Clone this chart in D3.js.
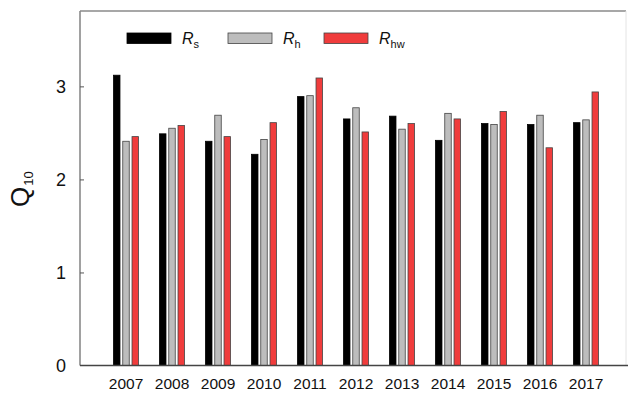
<!DOCTYPE html>
<html>
<head>
<meta charset="utf-8">
<script src="https://cdn.jsdelivr.net/npm/d3@7"></script>
<style>
  html, body { margin: 0; padding: 0; background: #fff; }
  svg { display: block; font-family: Arial, "Liberation Sans", sans-serif; }
</style>
</head>
<body>
<svg id="chart" width="630" height="394"></svg>
<script>
// Annual Q10 of the three respiration components
const years = ["2007","2008","2009","2010","2011","2012","2013","2014","2015","2016","2017"];
const seriesKeys = ["Rs", "Rh", "Rhw"];
const seriesSub = ["s", "h", "hw"];
const rsValues  = [3.12, 2.49, 2.41, 2.27, 2.89, 2.65, 2.68, 2.42, 2.60, 2.59, 2.61];
const rhValues  = [2.41, 2.55, 2.69, 2.43, 2.90, 2.77, 2.54, 2.71, 2.59, 2.69, 2.64];
const rhwValues = [2.46, 2.58, 2.46, 2.61, 3.09, 2.51, 2.60, 2.65, 2.73, 2.34, 2.94];
const yTicks = [0, 1, 2, 3];

const colors = { Rs: "#000000", Rh: "#bdbdbd", Rhw: "#f03c3c" };
const values = { Rs: rsValues, Rh: rhValues, Rhw: rhwValues };

const svg = d3.select("#chart");
const margin = { left: 80, top: 11, right: 626, bottom: 365.5 };

const y = d3.scaleLinear().domain([0, 3.81]).range([margin.bottom, margin.top]);
const x = d3.scaleBand().domain(years).range([103, 609]).paddingInner(0).paddingOuter(0);
const xs = d3.scaleBand().domain(seriesKeys).range([-12.5, 12.5]).paddingInner(0.3).paddingOuter(0);

// bars
const groups = svg.append("g").selectAll("g").data(years).join("g")
  .attr("transform", d => `translate(${x(d) + x.bandwidth() / 2},0)`);
groups.selectAll("rect")
  .data((d, i) => seriesKeys.map(k => ({ key: k, v: values[k][i] })))
  .join("rect")
  .attr("x", d => xs(d.key))
  .attr("width", xs.bandwidth())
  .attr("y", d => y(d.v))
  .attr("height", d => y(0) - y(d.v))
  .attr("fill", d => colors[d.key])
  .attr("stroke", d => d.key === "Rs" ? "#000" : "#444")
  .attr("stroke-width", 0.8);

// frame
const frameColor = "#8a8a8a";
svg.append("line").attr("x1", margin.left).attr("x2", margin.right)
  .attr("y1", margin.top).attr("y2", margin.top)
  .attr("stroke", frameColor).attr("stroke-width", 1.6);
svg.append("line").attr("x1", margin.right).attr("x2", margin.right)
  .attr("y1", margin.top).attr("y2", margin.bottom)
  .attr("stroke", "#e4e4e4").attr("stroke-width", 1);

// y axis with inward ticks
const yAxis = d3.axisRight(y).tickValues(yTicks).tickSize(4).tickFormat("");
const gy = svg.append("g").attr("transform", `translate(${margin.left},0)`).call(yAxis);
gy.select(".domain").attr("stroke", frameColor).attr("stroke-width", 1.6)
  .attr("d", `M0,${margin.top}V${margin.bottom}`);
gy.selectAll(".tick line").attr("stroke", "#555").attr("stroke-width", 1);
gy.selectAll(".tick").filter(d => d === 0).remove();

svg.append("g").selectAll("text").data(yTicks).join("text")
  .attr("x", 66).attr("y", d => y(d))
  .attr("dy", "0.36em")
  .attr("text-anchor", "end")
  .attr("font-size", 18)
  .attr("fill", "#111")
  .text(d => d);

// x axis
const xAxis = d3.axisBottom(x).tickSize(0).tickPadding(0);
const gx = svg.append("g").attr("transform", `translate(0,${margin.bottom})`).call(xAxis);
gx.select(".domain").attr("stroke", "#444").attr("stroke-width", 1.4)
  .attr("d", `M${margin.left},0H${margin.right + 2}`);
gx.selectAll(".tick text")
  .attr("y", 23).attr("dy", 0)
  .attr("font-size", 15.5)
  .attr("font-family", "Arial, 'Liberation Sans', sans-serif")
  .attr("fill", "#111");

// y axis title Q10
const yt = svg.append("text")
  .attr("transform", "translate(29,207) rotate(-90)")
  .attr("text-anchor", "start")
  .attr("font-size", 26)
  .attr("fill", "#111");
yt.append("tspan").text("Q");
yt.append("tspan").attr("font-size", 13).attr("dy", 4).attr("dx", 1).text("10");

// legend
const legendX = [127, 228, 324];
const lg = svg.append("g").selectAll("g").data(seriesKeys).join("g")
  .attr("transform", (d, i) => `translate(${legendX[i]},33)`);
lg.append("rect")
  .attr("width", 44).attr("height", 10.5)
  .attr("fill", d => colors[d])
  .attr("stroke", d => d === "Rs" ? "#000" : "#444")
  .attr("stroke-width", 0.8);
const lt = lg.append("text")
  .attr("x", 55).attr("y", 10.5)
  .attr("font-size", 16)
  .attr("fill", "#111");
lt.append("tspan").attr("font-style", "italic").text("R");
lt.append("tspan").attr("font-size", 11).attr("dy", 4)
  .text((d, i) => seriesSub[i]);
</script>
</body>
</html>
